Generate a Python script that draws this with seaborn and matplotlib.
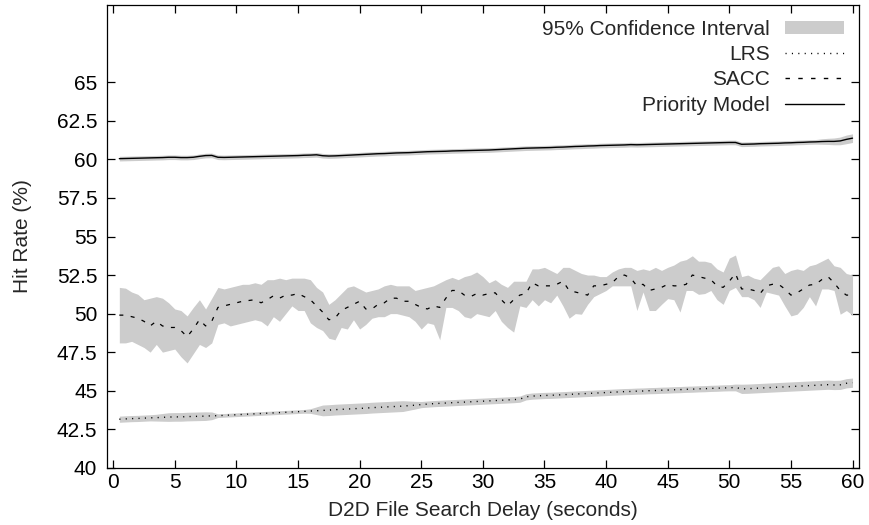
import numpy as np
import pandas as pd
import seaborn as sns
import matplotlib
matplotlib.use("Agg")
import matplotlib.pyplot as plt
from matplotlib.patches import Patch
from matplotlib.lines import Line2D

# search delay in seconds, one sample every half second
delay = np.arange(0.5, 60.01, 0.5)

# LRS hit rate (%) and half width of its 95% CI
lrs = [43.15, 43.17, 43.19, 43.2, 43.22, 43.24, 43.25, 43.27, 43.29, 43.3, 43.3, 43.32, 43.33, 43.34, 43.35, 43.37,
       43.38, 43.4, 43.42, 43.44, 43.46, 43.48, 43.5, 43.52, 43.54, 43.56, 43.58, 43.6, 43.62, 43.64, 43.66, 43.68, 43.7,
       43.72, 43.74, 43.77, 43.79, 43.81, 43.83, 43.85, 43.87, 43.9, 43.92, 43.94, 43.96, 43.98, 44.0, 44.03, 44.06, 44.1,
       44.13, 44.16, 44.18, 44.2, 44.22, 44.24, 44.26, 44.28, 44.3, 44.32, 44.34, 44.36, 44.38, 44.4, 44.42, 44.45,
       44.6, 44.65, 44.67, 44.69, 44.7, 44.72, 44.74, 44.76, 44.78, 44.8, 44.82, 44.84, 44.86, 44.88, 44.9, 44.92,
       44.94, 44.95, 44.97, 44.98, 45.0, 45.01, 45.03, 45.04, 45.06, 45.07, 45.09, 45.1, 45.12, 45.13, 45.15, 45.16, 45.18, 45.19, 45.21,
       45.12, 45.13, 45.15, 45.17, 45.19, 45.21, 45.23, 45.25, 45.27, 45.29, 45.31, 45.33, 45.35, 45.37, 45.39, 45.37, 45.38, 45.48, 45.52]
lrs_ci = [0.2, 0.2, 0.2, 0.2, 0.2, 0.2, 0.22, 0.25, 0.28, 0.28, 0.28, 0.28, 0.28, 0.28, 0.28, 0.25,
          0.12, 0.12, 0.12, 0.12, 0.12, 0.12, 0.12, 0.12, 0.12, 0.12, 0.12, 0.12, 0.12, 0.12, 0.12, 0.15, 0.25,
          0.35, 0.35, 0.35, 0.35, 0.35, 0.35, 0.35, 0.35, 0.35, 0.35, 0.35, 0.35, 0.35, 0.35, 0.3, 0.25, 0.2,
          0.2, 0.2, 0.2, 0.2, 0.2, 0.2, 0.2, 0.2, 0.2, 0.2, 0.2, 0.2, 0.2, 0.2, 0.2, 0.2,
          0.2, 0.2, 0.2, 0.2, 0.2, 0.2, 0.2, 0.2, 0.2, 0.2, 0.2, 0.2, 0.2, 0.2, 0.2, 0.2,
          0.2, 0.2, 0.2, 0.2, 0.2, 0.2, 0.2, 0.2, 0.2, 0.2, 0.2, 0.2, 0.2, 0.2, 0.2, 0.2, 0.2, 0.2, 0.22,
          0.3, 0.3, 0.3, 0.3, 0.3, 0.3, 0.3, 0.3, 0.3, 0.3, 0.3, 0.3, 0.3, 0.3, 0.3, 0.3, 0.3, 0.3, 0.3]

# SACC hit rate (%) with lower / upper CI bounds
sacc = [49.9, 49.9, 49.8, 49.7, 49.5, 49.2, 49.5, 49.2, 49.1, 49.1, 48.9, 48.5, 49.0, 49.6, 49.2, 49.5,
        50.4, 50.5, 50.6, 50.7, 50.8, 50.85, 50.9, 50.7, 50.9, 51.15, 51.0, 51.2, 51.2, 51.3, 51.1, 50.9, 50.5,
        50.1, 49.6, 49.7, 50.2, 50.4, 50.6, 50.8, 50.3, 50.3, 50.6, 50.7, 51.0, 51.0, 50.8, 50.8, 50.6, 50.4,
        50.3, 50.5, 50.4, 51.0, 51.5, 51.5, 51.2, 51.1, 51.3, 51.2, 51.3, 51.35, 50.9, 50.5, 50.9, 51.2,
        51.3, 52.0, 51.8, 51.8, 51.8, 51.9, 52.1, 51.5, 51.4, 51.3, 51.2, 51.8, 51.8, 51.9, 52.0, 52.4,
        52.5, 52.3, 51.8, 51.9, 51.5, 51.6, 51.7, 51.9, 51.8, 51.8, 51.9, 52.5, 52.4, 52.3, 52.2, 51.8, 51.7, 52.1, 52.6,
        51.6, 51.6, 51.5, 51.3, 51.8, 51.9, 51.9, 51.6, 51.2, 51.35, 51.6, 51.85, 51.9, 52.2, 52.4, 52.0, 51.5, 51.2, 51.2]
sacc_lo = [48.1, 48.1, 48.2, 48.0, 47.8, 47.5, 48.0, 47.5, 47.6, 47.7, 47.2, 46.8, 47.4, 48.0, 47.8, 48.1,
           49.3, 49.4, 49.2, 49.3, 49.4, 49.5, 49.6, 49.5, 49.2, 49.8, 49.5, 50.0, 50.5, 50.2, 50.2, 49.4, 49.1,
           48.9, 48.4, 48.3, 49.1, 49.0, 49.6, 49.0, 49.3, 49.7, 49.8, 49.8, 50.0, 50.0, 49.9, 49.8, 49.5, 49.0,
           49.4, 49.3, 48.3, 50.4, 50.4, 50.2, 49.8, 49.7, 50.0, 49.9, 49.8, 50.2, 49.5, 49.1, 48.8, 50.5,
           50.4, 50.9, 50.5, 50.9, 50.7, 51.2, 50.5, 49.7, 50.0, 49.96, 50.6, 51.1, 51.3, 51.5, 51.8, 51.8,
           51.8, 51.8, 50.2, 51.4, 50.2, 50.2, 50.6, 50.97, 50.9, 50.1, 51.5, 51.5, 51.25, 51.3, 51.5, 50.9, 50.6, 51.5, 51.7,
           51.1, 51.1, 50.9, 50.4, 51.4, 51.3, 51.2, 50.5, 49.85, 49.96, 50.4, 51.1, 50.5, 51.6, 51.6, 51.5, 49.96, 50.2, 49.9]
sacc_hi = [51.7, 51.65, 51.4, 51.25, 50.9, 51.0, 51.1, 51.0, 50.7, 50.3, 50.2, 49.85, 50.4, 50.9, 50.3, 51.0,
           51.7, 51.6, 51.7, 51.8, 51.9, 51.9, 52.0, 51.9, 52.2, 52.2, 52.3, 52.2, 52.3, 52.3, 52.3, 52.2, 51.7,
           51.4, 50.6, 50.9, 51.3, 51.7, 51.8, 51.6, 51.4, 51.5, 51.6, 51.8, 51.9, 51.8, 51.8, 51.8, 51.5, 51.6,
           51.7, 51.8, 52.0, 52.2, 52.35, 52.2, 52.4, 52.5, 52.7, 52.4, 52.0, 52.2, 51.9, 51.7, 52.1, 52.1,
           52.1, 52.9, 52.9, 53.0, 52.8, 52.6, 53.0, 53.0, 52.8, 52.6, 52.5, 52.5, 52.4, 52.4, 52.7, 52.9,
           53.0, 53.0, 52.8, 52.9, 52.8, 53.0, 52.8, 53.0, 53.15, 53.4, 53.5, 53.75, 53.4, 53.4, 53.3, 52.9, 52.7, 53.6, 53.8,
           52.4, 52.5, 52.3, 52.2, 52.6, 53.0, 53.1, 52.6, 52.8, 52.9, 52.8, 53.1, 53.2, 53.4, 53.6, 53.1, 53.0, 52.6, 52.5]

# Priority Model hit rate (%) and half width of its 95% CI
prio = [60.05, 60.06, 60.07, 60.08, 60.09, 60.1, 60.11, 60.12, 60.14, 60.14, 60.12, 60.12, 60.14, 60.2, 60.25, 60.26,
        60.14, 60.13, 60.14, 60.15, 60.16, 60.17, 60.18, 60.19, 60.2, 60.21, 60.22, 60.23, 60.24, 60.25, 60.27, 60.28, 60.3,
        60.24, 60.22, 60.23, 60.25, 60.27, 60.29, 60.31, 60.33, 60.35, 60.37, 60.38, 60.4, 60.42, 60.43, 60.44, 60.46, 60.48,
        60.5, 60.51, 60.52, 60.53, 60.55, 60.56, 60.57, 60.58, 60.59, 60.6, 60.61, 60.63, 60.65, 60.67, 60.69, 60.71,
        60.73, 60.74, 60.75, 60.76, 60.77, 60.79, 60.8, 60.82, 60.84, 60.85, 60.87, 60.88, 60.9, 60.91, 60.92, 60.93,
        60.94, 60.96, 60.95, 60.96, 60.97, 60.98, 60.99, 61.0, 61.01, 61.02, 61.03, 61.04, 61.05, 61.06, 61.07, 61.08, 61.09, 61.1, 61.1,
        60.98, 60.99, 61.0, 61.02, 61.03, 61.04, 61.05, 61.07, 61.08, 61.1, 61.11, 61.13, 61.14, 61.16, 61.17, 61.17, 61.2, 61.3, 61.38]
prio_ci = [0.15] * 114 + [0.18, 0.2, 0.22, 0.25, 0.28, 0.28]

yticks = [40, 42.5, 45, 47.5, 50, 52.5, 55, 57.5, 60, 62.5, 65]
ytick_labels = ["40", "42.5", "45", "47.5", "50", "52.5", "55", "57.5", "60", "62.5", "65"]
xticks = [0, 5, 10, 15, 20, 25, 30, 35, 40, 45, 50, 55, 60]

df = pd.DataFrame({"delay": delay, "LRS": lrs, "SACC": sacc, "Priority Model": prio})
lrs_ci = np.array(lrs_ci)
prio_ci = np.array(prio_ci)

sns.set_style("ticks")
plt.rcParams['font.family'] = ['Liberation Sans', 'DejaVu Sans']
fs = 15

band = "#cccccc"
dotted = (0, (0.8, 3.8))
dashed = (0, (3.2, 6.0))

fig, ax = plt.subplots(figsize=(8.7, 5.25), dpi=100)
fig.subplots_adjust(left=0.123, right=0.987, top=0.99, bottom=0.109)

ax.fill_between(df["delay"], df["LRS"] - lrs_ci, df["LRS"] + lrs_ci, color=band, lw=0)
ax.fill_between(df["delay"], sacc_lo, sacc_hi, color=band, lw=0)
ax.fill_between(df["delay"], df["Priority Model"] - prio_ci, df["Priority Model"] + prio_ci, color=band, lw=0)

sns.lineplot(data=df, x="delay", y="LRS", ax=ax, color="black", lw=1.0,
             linestyle=dotted, estimator=None)
sns.lineplot(data=df, x="delay", y="SACC", ax=ax, color="black", lw=0.9,
             linestyle=dashed, estimator=None)
sns.lineplot(data=df, x="delay", y="Priority Model", ax=ax, color="black", lw=1.0,
             linestyle="-", estimator=None)

ax.set_xlim(-0.5, 60.5)
ax.set_ylim(40, 70)
ax.set_xticks(xticks)
ax.set_yticks(yticks)
ax.set_yticklabels(ytick_labels)
ax.set_xlabel("D2D File Search Delay (seconds)", fontsize=fs, labelpad=6)
ax.set_ylabel("Hit Rate (%)", fontsize=fs, labelpad=18)
ax.tick_params(direction="in", top=True, right=True, length=6, width=0.9,
               labelsize=fs, colors="black", pad=7)
ax.tick_params(axis="x", pad=4)
for s in ax.spines.values():
    s.set_linewidth(0.9)
    s.set_color("black")

handles = [Patch(facecolor=band, edgecolor="none"),
           Line2D([], [], color="black", lw=1.0, linestyle=dotted),
           Line2D([], [], color="black", lw=1.0, linestyle=dashed),
           Line2D([], [], color="black", lw=1.0)]
labels = ["95% Confidence Interval", "LRS", "SACC", "Priority Model"]
ax.legend(handles, labels, loc="upper right", frameon=False, markerfirst=False,
          handlelength=2.85, handleheight=0.6, labelspacing=0.3, handletextpad=0.7,
          borderaxespad=0.3, fontsize=fs)

plt.savefig("out.png", dpi=100)
